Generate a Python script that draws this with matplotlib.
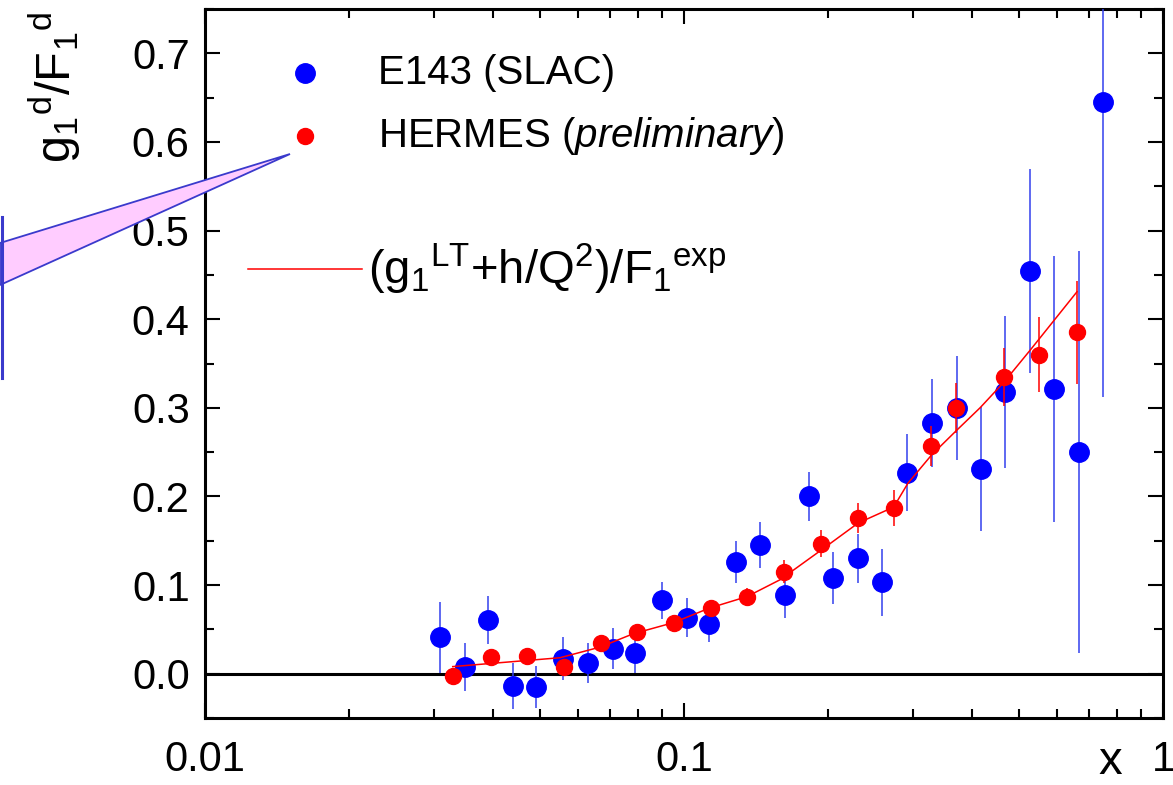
import matplotlib
matplotlib.use("Agg")
import matplotlib.pyplot as plt
from matplotlib.patches import Polygon
from matplotlib.lines import Line2D
from matplotlib.ticker import LogLocator, FixedLocator, MultipleLocator

plt.rcParams['font.family'] = ['Liberation Sans', 'DejaVu Sans']
plt.rcParams['mathtext.fontset'] = 'custom'
plt.rcParams['mathtext.rm'] = 'Liberation Sans'
plt.rcParams['mathtext.it'] = 'Liberation Sans:italic'

# E143 (SLAC)
x_e143 = [0.0310, 0.0349, 0.0390, 0.0440, 0.0491, 0.0559, 0.0630, 0.0711, 0.0790, 0.0900,
          0.1014, 0.1130, 0.1284, 0.1440, 0.1625, 0.1824, 0.2047, 0.2310, 0.2590, 0.2920,
          0.3295, 0.3715, 0.4170, 0.4680, 0.5276, 0.5922, 0.6680, 0.7490]
y_e143 = [0.041, 0.008, 0.061, -0.0135, -0.015, 0.017, 0.012, 0.028, 0.023, 0.083,
          0.063, 0.056, 0.126, 0.145, 0.089, 0.200, 0.108, 0.130, 0.103, 0.227,
          0.283, 0.300, 0.231, 0.318, 0.454, 0.321, 0.250, 0.645]
err_e143 = [0.040, 0.027, 0.027, 0.026, 0.024, 0.024, 0.023, 0.023, 0.022, 0.021,
            0.022, 0.020, 0.024, 0.026, 0.026, 0.028, 0.029, 0.028, 0.038, 0.043,
            0.050, 0.059, 0.070, 0.086, 0.115, 0.150, 0.227, 0.333]

# HERMES (preliminary)
x_hermes = [0.0329, 0.0396, 0.0470, 0.0562, 0.0671, 0.0798, 0.0953, 0.1139, 0.1354,
            0.1618, 0.1932, 0.2308, 0.2743, 0.3280, 0.3696, 0.4656, 0.5510, 0.6615]
y_hermes = [-0.003, 0.019, 0.020, 0.008, 0.035, 0.047, 0.0575, 0.074, 0.087,
            0.115, 0.1466, 0.176, 0.187, 0.257, 0.300, 0.335, 0.360, 0.385]
err_hermes = [0.006, 0.006, 0.006, 0.007, 0.007, 0.008, 0.008, 0.009, 0.010,
              0.013, 0.015, 0.017, 0.020, 0.023, 0.028, 0.033, 0.042, 0.058]

# (g1^LT + h/Q^2)/F1^exp curve
x_fit = [0.0329, 0.0551, 0.0668, 0.0783, 0.0949, 0.1130, 0.1354, 0.1587, 0.1940,
         0.2310, 0.2740, 0.2935, 0.3290, 0.3715, 0.4150, 0.4656, 0.5280, 0.6615]
y_fit = [0.008, 0.018, 0.030, 0.045, 0.0575, 0.074, 0.087, 0.106, 0.140,
         0.170, 0.188, 0.215, 0.247, 0.275, 0.300, 0.329, 0.365, 0.431]

fig = plt.figure(figsize=(11.73, 7.85), dpi=100)
ax = fig.add_axes([205/1173, 1 - 718/785, 958/1173, 709/785])

ax.axhline(0, color='black', lw=2.2, zorder=1)
ax.errorbar(x_e143, y_e143, yerr=err_e143, fmt='o', color='#0000ff', ecolor='#3340ee',
            elinewidth=1.1, ms=14, capsize=0, zorder=3)
ax.plot(x_fit, y_fit, color='#ff0000', lw=1.1, zorder=4)
ax.errorbar(x_hermes, y_hermes, yerr=err_hermes, fmt='o', color='#ff0000', ecolor='#ff0000',
            elinewidth=1.1, ms=11.5, capsize=0, zorder=5)

ax.set_xscale('log')
ax.set_xlim(0.01, 1)
ax.set_ylim(-0.05, 0.75)
ax.xaxis.set_major_locator(FixedLocator([0.01, 0.1, 1]))
ax.xaxis.set_minor_locator(LogLocator(base=10, subs=range(2, 10)))
ax.set_xticklabels(['0.01', '0.1', '1'])
ax.yaxis.set_major_locator(MultipleLocator(0.1))
ax.yaxis.set_minor_locator(MultipleLocator(0.05))
ax.yaxis.set_major_formatter(plt.FuncFormatter(lambda v, p: f"{v:.1f}"))
ax.tick_params(which='both', direction='in', top=True, right=True, width=1.5, labelsize=30)
ax.tick_params(which='major', length=11)
ax.tick_params(which='minor', length=6.5)
ax.tick_params(axis='x', pad=16)
ax.tick_params(axis='y', pad=11)
for s in ax.spines.values():
    s.set_linewidth(2.2)

# legend drawn by hand
ax.plot([0.1044], [0.9097], 'o', color='#0000ff', ms=14, transform=ax.transAxes, clip_on=False)
ax.plot([0.1044], [0.8209], 'o', color='#ff0000', ms=11.5, transform=ax.transAxes, clip_on=False)
ax.plot([0.0449, 0.1639], [0.6333, 0.6333], color='#ff0000', lw=1.1, transform=ax.transAxes)
ax.text(0.1806, 0.9097, 'E143 (SLAC)', transform=ax.transAxes, fontsize=29, va='center')
ax.text(0.1806, 0.8209, r'HERMES ($\mathit{preliminary}$)', transform=ax.transAxes,
        fontsize=29, va='center')
ax.text(0.170, 0.6333, r'$\mathregular{(g_{1}{}^{LT}{+}h/Q^{2})/F_{1}{}^{exp}}$',
        transform=ax.transAxes, fontsize=34, va='center')

# axis labels
fig.text(55/1173, 1 - 12/785, r'$\mathregular{g_{1}{}^{d}/F_{1}{}^{d}}$', rotation=90,
         ha='center', va='top', fontsize=35)
fig.text(1110/1173, 1 - 774/785, 'x', ha='center', va='baseline', fontsize=34)

# callout wedge from a neighbouring panel
wedge = Polygon([(290/1173, 1 - 154/785), (0, 1 - 243/785), (0, 1 - 285/785)],
                closed=True, facecolor='#ffccff', edgecolor='#3a3acc', lw=1.3,
                transform=fig.transFigure, zorder=10)
fig.add_artist(wedge)
fig.add_artist(Line2D([1.5/1173, 1.5/1173], [1 - 217/785, 1 - 378/785], color='#3a3acc',
                      lw=2.2, transform=fig.transFigure, zorder=11))

fig.savefig('out.png', dpi=100)
